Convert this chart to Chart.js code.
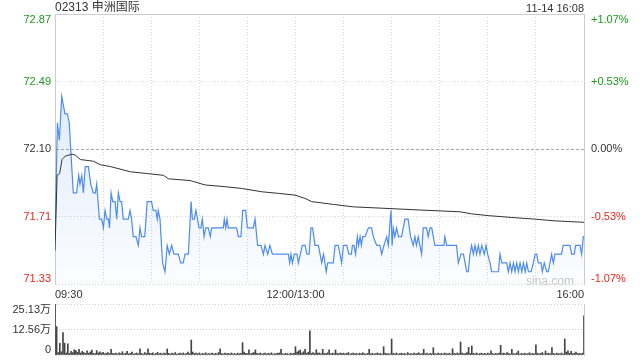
<!DOCTYPE html>
<html>
<head>
<meta charset="utf-8">
<script src="https://cdn.jsdelivr.net/npm/chart.js@4.4.1/dist/chart.umd.min.js"></script>
<style>
  body { margin: 0; background: #fff; }
  #wrap { position: relative; width: 640px; height: 360px; font-family: "Liberation Sans", Arial, "Noto Sans CJK SC", sans-serif; }
  canvas { position: absolute; left: 0; }
  .txt { position: absolute; white-space: nowrap; color: #333; }
</style>
</head>
<body>
<div id="wrap">
  <canvas id="priceChart" width="640" height="300" style="top:0;width:640px;height:300px"></canvas>
  <canvas id="volChart" width="640" height="60" style="top:300px;width:640px;height:60px"></canvas>
  <div class="txt" style="left:55px;top:0;font-size:12px;line-height:14px">02313 申洲国际</div>
  <div class="txt" style="right:56px;top:1px;font-size:11px;line-height:14px">11-14 16:08</div>
  <div class="txt" style="left:526px;top:274px;font-size:12px;line-height:14px;color:#c8c8c8">sina.com</div>
</div>
<script>
// minutes since 09:30 (lunch break removed), 0..330
const priceTimes = [0, 1.5, 2.7, 4.2, 5.2, 6.2, 7.8, 8.9, 9.8, 11.4,
  13.5, 14.8, 15.6, 16.7, 17.7, 18.9, 20.8, 22.3, 23.9, 25.2,
  26, 27.7, 29.1, 30.2, 31.2, 32.3, 33.3, 34, 35, 36,
  37.5, 38.5, 39.5, 40.6, 41.6, 42.6, 45.7, 46.8, 47.8, 48.8,
  50.5, 52, 53, 54, 56, 57.5, 60.2, 61.3, 62.9, 63.8,
  64.4, 65.5, 67.1, 68.6, 70, 71.3, 72.8, 74.2, 76.9, 78.4,
  80, 81.1, 83.2, 84.9, 85.7, 86.9, 87.9, 88.9, 89.8, 91,
  91.9, 93, 94, 95.6, 96.9, 97.7, 105, 105.6, 106.5, 107.3,
  108.1, 113.3, 114.4, 116, 117.1, 119, 120, 123.7, 124.8, 126.4,
  128.5, 130, 131, 132.7, 134.1, 135.6, 145.6, 146.4, 147.2, 148.1,
  149.3, 151, 151.8, 154.3, 156, 157.2, 158.5, 159.7, 160.7, 162.2,
  164.3, 166.4, 167.5, 168.4, 169.2, 170.1, 173.6, 174.7, 176.7, 177.8,
  178.8, 179.9, 182, 183.4, 184.9, 185.5, 186.5, 187.5, 188.6, 189.4,
  190.3, 191.1, 191.9, 193.4, 195.5, 197.5, 198.6, 200.7, 202.7, 203.8,
  205.2, 206.9, 207.9, 209.6, 210.3, 211, 212, 213.1, 214.3, 216.2,
  218.3, 220.3, 221.8, 223.5, 224.5, 225.5, 226.6, 227.6, 228.7, 229.7,
  231.8, 232.8, 233.9, 235, 236, 237, 242.6, 243.2, 244.3, 250.5,
  251.6, 253.3, 254.8, 255.8, 256.8, 257.8, 258.9, 259.9, 261, 262,
  263, 264.1, 265.1, 266.2, 267.8, 268.9, 269.9, 271.4, 272.4, 276.6,
  277.6, 278.7, 281.8, 282.8, 283.9, 284.9, 286, 287, 288, 289.1,
  290.1, 291.2, 292.2, 293.3, 294.3, 295.3, 297, 298.4, 299.5, 300.5,
  301.5, 303.2, 304, 305.2, 306.7, 307.7, 308.8, 309.8, 310.9, 311.9,
  316, 317, 321.2, 322.3, 323.9, 324.8, 327.5, 328.5, 329.6, 330];

const priceValues = [71.60, 72.25, 72.15, 72.40, 72.35, 72.30, 72.30, 72.25, 72.10, 71.85,
  71.85, 71.95, 71.90, 71.95, 71.85, 72.00, 72.00, 71.90, 71.85, 71.85,
  71.90, 71.70, 71.70, 71.65, 71.75, 71.70, 71.70, 71.65, 71.85, 71.80,
  71.80, 71.70, 71.85, 71.80, 71.80, 71.70, 71.70, 71.75, 71.70, 71.60,
  71.60, 71.55, 71.65, 71.60, 71.60, 71.80, 71.80, 71.75, 71.75, 71.70,
  71.75, 71.70, 71.45, 71.40, 71.55, 71.50, 71.55, 71.50, 71.50, 71.45,
  71.45, 71.50, 71.50, 71.80, 71.70, 71.70, 71.75, 71.70, 71.65, 71.65,
  71.70, 71.60, 71.65, 71.65, 71.60, 71.65, 71.65, 71.70, 71.65, 71.70,
  71.65, 71.65, 71.60, 71.60, 71.75, 71.75, 71.65, 71.65, 71.70, 71.55,
  71.55, 71.50, 71.55, 71.50, 71.55, 71.50, 71.50, 71.45, 71.50, 71.45,
  71.50, 71.50, 71.45, 71.55, 71.55, 71.50, 71.50, 71.65, 71.65, 71.55,
  71.55, 71.45, 71.50, 71.45, 71.40, 71.45, 71.45, 71.55, 71.55, 71.50,
  71.45, 71.55, 71.55, 71.50, 71.50, 71.55, 71.55, 71.50, 71.60, 71.55,
  71.60, 71.55, 71.60, 71.60, 71.65, 71.65, 71.60, 71.55, 71.55, 71.50,
  71.55, 71.60, 71.55, 71.75, 71.55, 71.65, 71.60, 71.65, 71.60, 71.60,
  71.70, 71.70, 71.60, 71.55, 71.60, 71.55, 71.60, 71.55, 71.50, 71.65,
  71.65, 71.60, 71.65, 71.65, 71.60, 71.55, 71.55, 71.60, 71.55, 71.55,
  71.45, 71.50, 71.50, 71.45, 71.40, 71.40, 71.50, 71.55, 71.50, 71.55,
  71.50, 71.55, 71.50, 71.55, 71.50, 71.55, 71.50, 71.45, 71.40, 71.40,
  71.50, 71.45, 71.45, 71.40, 71.45, 71.40, 71.45, 71.40, 71.45, 71.40,
  71.45, 71.40, 71.45, 71.40, 71.45, 71.40, 71.40, 71.45, 71.50, 71.50,
  71.45, 71.45, 71.40, 71.45, 71.40, 71.40, 71.45, 71.50, 71.45, 71.50,
  71.50, 71.55, 71.55, 71.50, 71.50, 71.55, 71.55, 71.50, 71.60, 71.60];

const avgTimes = [0, 1.3, 2.9, 4.4, 6.5, 10.6, 12.7, 15.8, 24.1, 28.3,
  34.5, 47, 57.3, 67.7, 70.8, 84.3, 93.6, 106, 116.5, 129,
  139.3, 149.7, 156, 160.1, 173.6, 186, 209.6, 227.6, 252.6, 259.9,
  270.3, 287, 299.5, 311.9, 330];
const avgValues = [71.52, 71.95, 71.96, 72.04, 72.06, 72.07, 72.065, 72.04, 72.03, 72.01,
  72.00, 71.97, 71.96, 71.95, 71.93, 71.92, 71.895, 71.885, 71.875, 71.856,
  71.847, 71.837, 71.818, 71.80, 71.784, 71.77, 71.76, 71.752, 71.742, 71.73,
  71.72, 71.708, 71.70, 71.69, 71.682];

// volume per minute, in 万 shares (index = minute 0..330)
const volumes = [
  25.13, 14.0, 1.2, 5.8, 1.6, 11.0, 5.8, 1.0, 5.5, 0.8,
  1.8, 1.2, 2.6, 2.2, 1.4, 2.8, 1.0, 1.8, 1.2, 0.8,
  2.0, 0.9, 1.5, 2.4, 0.8, 0.7, 2.2, 1.0, 1.6, 0.9,
  1.3, 0.6, 0.9, 1.2, 0.7, 2.8, 0.8, 0.6, 1.0, 0.5,
  1.1, 0.7, 1.6, 0.6, 0.9, 1.8, 0.6, 0.8, 1.4, 0.5,
  0.7, 1.0, 0.6, 3.1, 0.8, 0.5, 1.2, 0.7, 3.0, 0.9,
  0.7, 1.1, 0.5, 0.8, 1.3, 0.6, 0.9, 0.5, 1.0, 0.7,
  3.0, 0.8, 0.5, 0.9, 0.6, 1.2, 0.5, 0.7, 0.9, 0.6,
  1.0, 0.5, 0.8, 1.4, 0.6, 7.4, 1.5, 0.7, 0.9, 0.6,
  1.0, 0.5, 0.8, 0.6, 1.1, 0.5, 0.7, 0.6, 0.9, 0.5,
  0.8, 0.6, 1.2, 3.0, 0.7, 0.5, 0.9, 0.6, 0.8, 0.5,
  1.0, 0.6, 0.7, 0.5, 0.9, 0.6, 0.8, 6.1, 1.4, 0.8,
  0.7, 2.5, 0.6, 0.9, 1.2, 2.5, 0.8, 0.6, 1.0, 0.5,
  0.7, 0.9, 0.5, 0.8, 0.6, 1.1, 0.5, 0.7, 0.6, 0.9,
  1.0, 2.8, 0.6, 0.5, 0.8, 0.7, 0.5, 0.9, 0.6, 0.8,
  4.1, 1.5, 2.0, 2.5, 1.0, 1.6, 2.8, 0.9, 1.4, 11.9,
  0.8, 1.2, 0.7, 2.6, 0.9, 1.0, 0.6, 2.8, 0.8, 0.7,
  1.1, 2.6, 0.6, 0.9, 0.7, 2.5, 0.8, 0.6, 1.0, 0.7,
  0.9, 0.6, 0.8, 1.2, 0.5, 0.7, 1.0, 0.6, 0.8, 0.5,
  0.9, 0.6, 1.1, 0.7, 0.5, 0.8, 2.8, 0.6, 0.9, 0.5,
  0.7, 1.0, 0.6, 0.8, 0.5, 4.1, 0.9, 0.6, 0.7, 0.5,
  7.9, 0.8, 0.6, 1.0, 0.5, 0.7, 0.9, 0.6, 0.8, 0.5,
  1.2, 0.6, 0.7, 0.5, 0.9, 0.6, 0.8, 1.1, 0.5, 0.7,
  2.8, 0.6, 0.9, 0.5, 0.8, 0.6, 3.6, 0.7, 0.5, 0.9,
  0.6, 0.8, 0.5, 1.0, 0.7, 0.6, 0.9, 0.5, 3.1, 0.8,
  0.6, 1.0, 0.7, 6.4, 0.9, 0.6, 0.8, 1.2, 3.8, 0.7,
  4.5, 0.8, 0.6, 1.0, 0.5, 0.7, 0.9, 0.6, 0.8, 0.5,
  0.9, 0.6, 2.0, 0.7, 0.5, 0.8, 0.6, 1.0, 4.8, 0.7,
  0.9, 0.6, 1.2, 0.8, 0.5, 2.8, 0.7, 0.6, 1.0, 2.0,
  0.5, 0.8, 0.6, 0.9, 0.5, 0.7, 1.1, 0.6, 0.8, 0.5,
  5.0, 0.9, 0.6, 0.8, 1.2, 0.5, 2.0, 0.7, 0.9, 0.6,
  3.6, 0.8, 0.5, 0.9, 0.7, 0.6, 1.0, 0.5, 7.9, 1.4,
  2.0, 0.8, 1.8, 0.6, 0.9, 1.5, 0.7, 0.8, 0.6, 0.9,
  19.3];

const prevClose = 72.10;
const priceTicks = [71.33, 71.715, 72.10, 72.485, 72.87];
const leftTickLabels = ['71.33', '71.71', '72.10', '72.49', '72.87'];
const rightTickLabels = ['-1.07%', '-0.53%', '0.00%', '+0.53%', '+1.07%'];
const gridMinutes = [0, 30, 60, 90, 120, 150, 180, 210, 240, 270, 300, 330];
const timeTickMinutes = [0, 150, 330];
const timeTickLabels = ['09:30', '12:00/13:00', '16:00'];
const volTicks = [0, 12.565, 25.13];
const volTickLabels = ['0', '12.56万', '25.13万'];

const GREEN = '#1a9c1a', RED = '#e8261c', DARK = '#333';
const priceTickColors = [RED, RED, DARK, GREEN, GREEN];
const FONT = '"Liberation Sans", Arial, "Noto Sans CJK SC", sans-serif';

Chart.defaults.font.family = FONT;
Chart.defaults.font.size = 11;
Chart.defaults.color = '#333';

// draws the axis labels beside the plot, top one hangs down, bottom one sits up
function sideLabels(values, sides) {
  return {
    id: 'sideLabels',
    afterDraw(chart) {
      const ctx = chart.ctx, area = chart.chartArea, scale = chart.scales.y;
      ctx.save();
      ctx.font = '11px ' + FONT;
      sides.forEach(side => {
        const n = side.labels.length;
        side.labels.forEach((label, i) => {
          ctx.fillStyle = side.colors[i];
          ctx.textAlign = side.left ? 'right' : 'left';
          ctx.textBaseline = i === 0 ? 'bottom' : (i === n - 1 ? 'top' : 'middle');
          const x = side.left ? area.left - 4 : area.right + 7;
          ctx.fillText(label, x, scale.getPixelForValue(values[i]));
        });
      });
      ctx.restore();
    }
  };
}

const tickVal = c => (c && c.tick) ? c.tick.value : null;

// 1. price chart
new Chart(document.getElementById('priceChart'), {
  type: 'line',
  data: {
    datasets: [{
      label: 'avg',
      data: avgTimes.map((t, i) => ({ x: t, y: avgValues[i] })),
      borderColor: '#333',
      borderWidth: 1,
      pointRadius: 0,
      fill: false
    }, {
      label: 'price',
      data: priceTimes.map((t, i) => ({ x: t, y: priceValues[i] })),
      borderColor: '#4d8cf0',
      borderWidth: 1.2,
      pointRadius: 0,
      fill: 'start',
      backgroundColor: c => {
        const area = c.chart.chartArea;
        if (!area) return 'rgba(77,140,240,0.1)';
        const g = c.chart.ctx.createLinearGradient(0, area.top, 0, area.bottom);
        g.addColorStop(0, 'rgba(77,140,240,0.24)');
        g.addColorStop(1, 'rgba(77,140,240,0.02)');
        return g;
      }
    }]
  },
  options: {
    responsive: false,
    animation: false,
    layout: { padding: { top: 14, bottom: 0, left: 0, right: 0 } },
    plugins: { legend: { display: false }, tooltip: { enabled: false } },
    scales: {
      x: {
        type: 'linear', min: 0, max: 330,
        afterBuildTicks: s => { s.ticks = gridMinutes.map(v => ({ value: v })); },
        afterFit: s => { s.height = 16; },
        ticks: {
          autoSkip: false, maxRotation: 0, align: 'inner', padding: 4, color: '#333',
          callback: v => { const i = timeTickMinutes.indexOf(v); return i >= 0 ? timeTickLabels[i] : ''; }
        },
        grid: {
          drawTicks: false, lineWidth: 1,
          color: c => { const v = tickVal(c); return (v === 0 || v === 330) ? 'rgba(0,0,0,0)' : '#d4d4d4'; }
        },
        border: { display: false, dash: [1, 2] }
      },
      y: {
        position: 'left', min: 71.33, max: 72.87,
        afterBuildTicks: s => { s.ticks = priceTicks.map(v => ({ value: v })); },
        afterFit: s => { s.width = 55; },
        ticks: { display: false },
        grid: {
          drawTicks: false, lineWidth: 1,
          color: c => { const v = tickVal(c); return v === prevClose ? '#a8a8a8' : (v === 72.87 ? '#cccccc' : '#d4d4d4'); }
        },
        border: {
          display: true, color: '#cccccc', width: 1,
          dash: c => { const v = tickVal(c); return v === prevClose ? [3, 2] : (v === 72.87 || v === null ? [] : [1, 2]); }
        }
      },
      y1: {
        position: 'right', min: 71.33, max: 72.87,
        afterFit: s => { s.width = 56; },
        ticks: { display: false },
        grid: { display: false, drawTicks: false },
        border: { display: true, color: '#cccccc', width: 1 }
      }
    }
  },
  plugins: [sideLabels(priceTicks, [
    { left: true, labels: leftTickLabels, colors: priceTickColors },
    { left: false, labels: rightTickLabels, colors: priceTickColors }
  ])]
});

// 2. volume chart
new Chart(document.getElementById('volChart'), {
  type: 'bar',
  data: {
    datasets: [{
      data: volumes.map((v, i) => ({ x: i, y: v })),
      backgroundColor: '#444',
      barThickness: 1,
      borderWidth: 0
    }]
  },
  options: {
    responsive: false,
    animation: false,
    layout: { padding: { top: 4, bottom: 5, left: 0, right: 0 } },
    plugins: { legend: { display: false }, tooltip: { enabled: false } },
    scales: {
      x: { type: 'linear', min: 0, max: 330, offset: false, display: false },
      y: {
        position: 'left', min: 0, max: 25.13,
        afterBuildTicks: s => { s.ticks = volTicks.map(v => ({ value: v })); },
        afterFit: s => { s.width = 55; },
        ticks: { display: false },
        grid: { drawTicks: false, color: '#cfcfcf', lineWidth: 1 },
        border: { display: true, color: '#cccccc', width: 1, dash: c => (tickVal(c) === null ? [] : [1, 2]) }
      },
      y1: {
        position: 'right', min: 0, max: 25.13,
        afterFit: s => { s.width = 56; },
        ticks: { display: false },
        grid: { display: false, drawTicks: false },
        border: { display: true, color: '#cccccc', width: 1 }
      }
    }
  },
  plugins: [sideLabels(volTicks, [
    { left: true, labels: volTickLabels, colors: [DARK, DARK, DARK] }
  ])]
});
</script>
</body>
</html>
